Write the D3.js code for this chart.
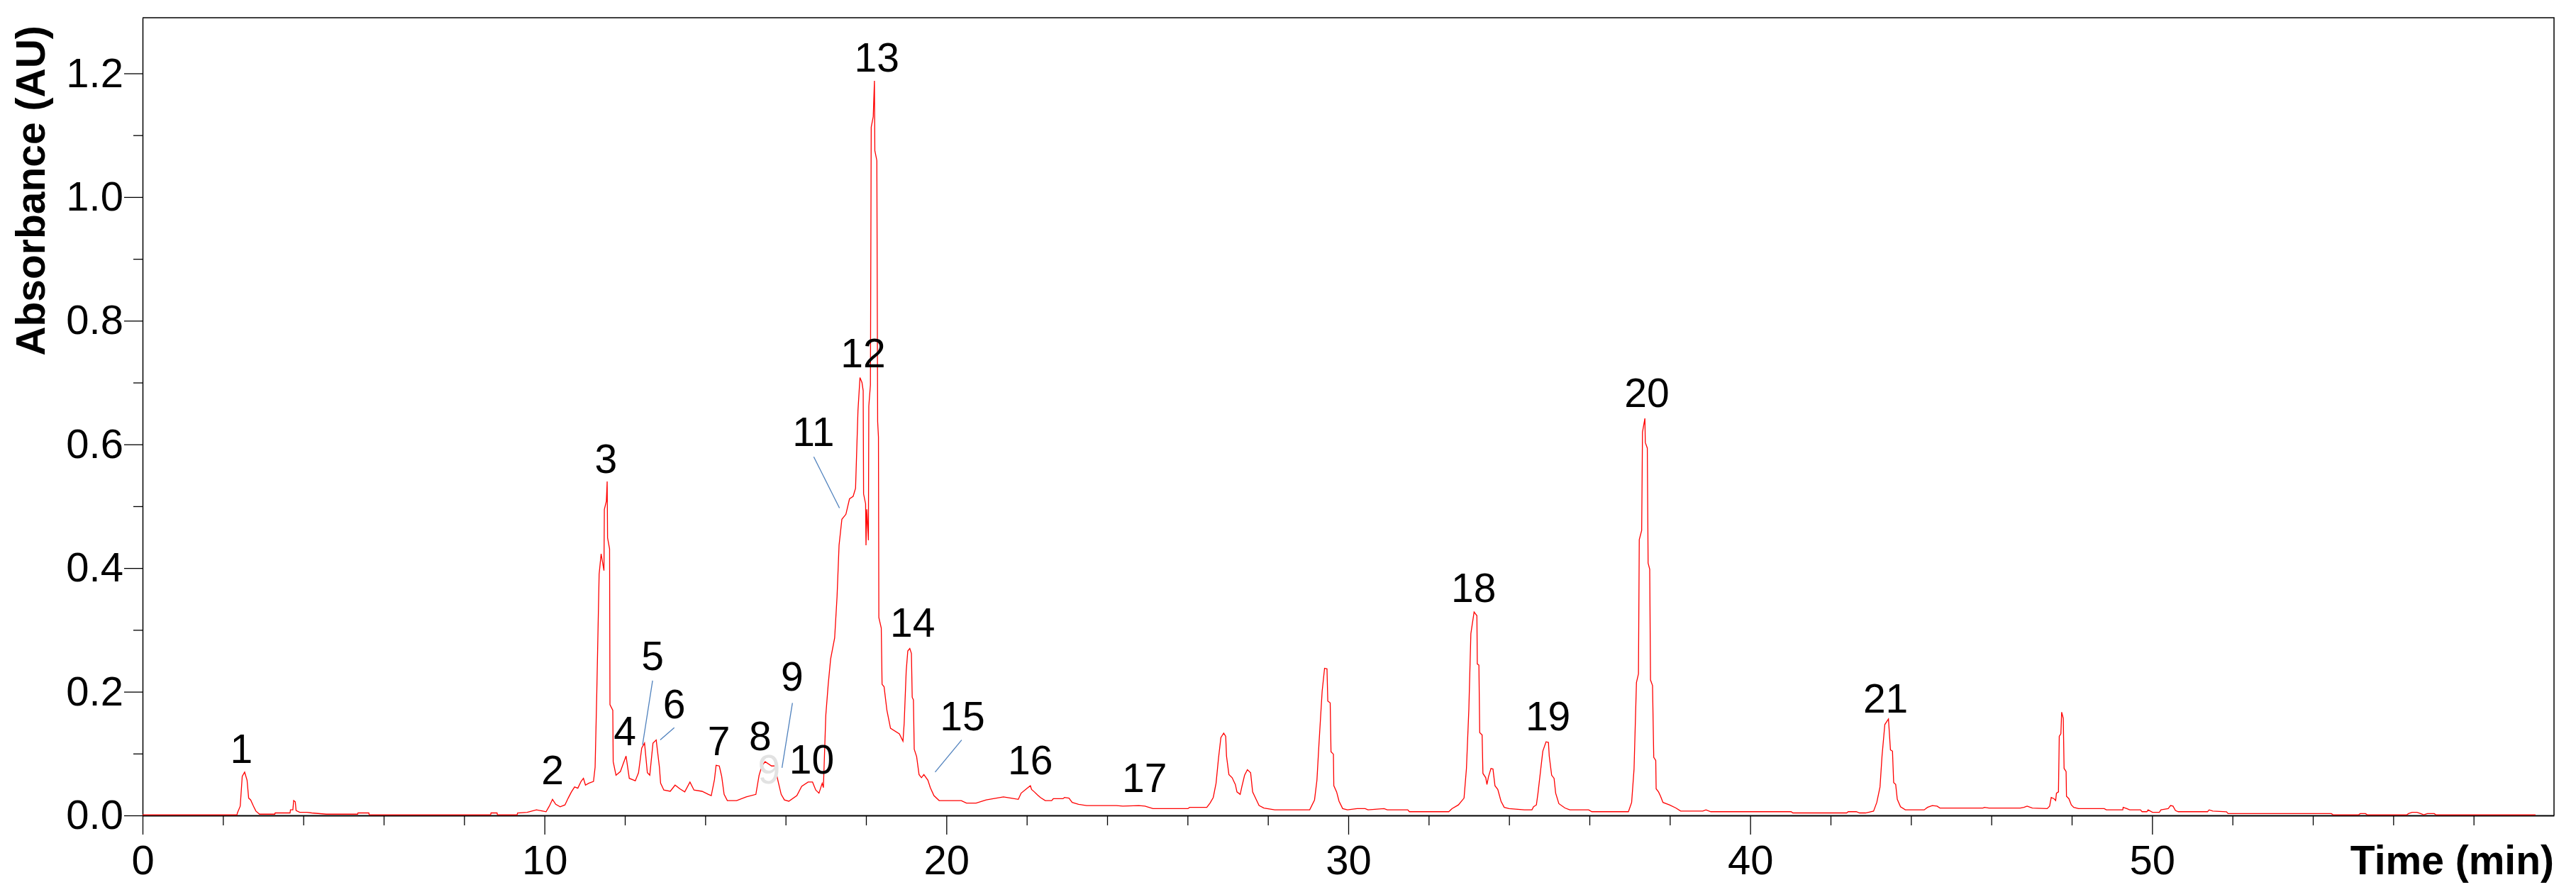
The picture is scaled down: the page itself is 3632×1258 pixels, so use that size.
<!DOCTYPE html>
<html>
<head>
<meta charset="utf-8">
<script src="https://cdn.jsdelivr.net/npm/d3@7"></script>
<style>
  body { margin: 0; background: #fff; }
  svg { display: block; font-family: 'Liberation Sans', Arial, sans-serif; }
</style>
</head>
<body>
<div id="chart"></div>
<script>
// retention time (min) and absorbance (AU)
const times = [
  0.00, 2.35, 2.36, 2.43, 2.48, 2.54, 2.60, 2.64, 2.69, 2.76, 2.82, 2.91, 3.29, 3.30, 3.67, 3.68,
  3.74, 3.76, 3.80, 3.82, 3.91, 4.09, 4.21, 4.57, 5.35, 5.36, 5.63, 5.64, 8.66, 8.67, 8.82, 8.83,
  9.32, 9.33, 9.57, 9.80, 9.96, 10.04, 10.12, 10.20, 10.28, 10.39, 10.51, 10.59, 10.67, 10.75,
  10.83, 10.91, 10.97, 11.02, 11.10, 11.22, 11.26, 11.30, 11.36, 11.41, 11.48, 11.49, 11.54,
  11.56, 11.57, 11.62, 11.63, 11.70, 11.71, 11.78, 11.89, 11.95, 12.03, 12.11, 12.26, 12.34,
  12.42, 12.49, 12.56, 12.62, 12.70, 12.78, 12.86, 12.89, 12.97, 13.13, 13.25, 13.37, 13.49,
  13.62, 13.72, 13.92, 14.08, 14.15, 14.23, 14.27, 14.35, 14.41, 14.47, 14.55, 14.78, 15.02,
  15.26, 15.34, 15.41, 15.49, 15.65, 15.73, 15.81, 15.89, 15.97, 16.08, 16.28, 16.40, 16.56,
  16.67, 16.75, 16.83, 16.91, 16.94, 17.00, 17.06, 17.12, 17.22, 17.28, 17.33, 17.40, 17.50,
  17.59, 17.68, 17.74, 17.80, 17.85, 17.90, 17.93, 17.94, 17.99, 18.00, 18.02, 18.06, 18.07,
  18.11, 18.13, 18.18, 18.21, 18.22, 18.27, 18.29, 18.31, 18.32, 18.38, 18.40, 18.45, 18.52,
  18.61, 18.83, 18.92, 18.95, 19.00, 19.04, 19.09, 19.13, 19.15, 19.18, 19.20, 19.26, 19.32,
  19.38, 19.44, 19.54, 19.60, 19.69, 19.82, 20.37, 20.50, 20.74, 20.99, 21.42, 21.61, 21.79,
  21.86, 22.03, 22.09, 22.12, 22.19, 22.27, 22.34, 22.46, 22.62, 22.66, 22.90, 22.94, 23.05,
  23.13, 23.29, 23.49, 24.23, 24.39, 24.79, 24.94, 25.14, 26.01, 26.05, 26.48, 26.56, 26.64,
  26.71, 26.77, 26.83, 26.90, 26.95, 26.97, 27.03, 27.11, 27.19, 27.23, 27.31, 27.35, 27.42,
  27.49, 27.57, 27.62, 27.70, 27.78, 27.90, 28.17, 29.04, 29.16, 29.22, 29.27, 29.35, 29.41,
  29.47, 29.49, 29.55, 29.57, 29.63, 29.64, 29.71, 29.77, 29.86, 29.98, 30.22, 30.42, 30.49,
  30.89, 30.97, 31.48, 31.52, 32.50, 32.58, 32.74, 32.88, 32.94, 33.00, 33.05, 33.13, 33.20,
  33.21, 33.25, 33.27, 33.33, 33.35, 33.42, 33.45, 33.49, 33.55, 33.60, 33.65, 33.72, 33.80,
  33.88, 34.00, 34.38, 34.57, 34.61, 34.68, 34.72, 34.78, 34.84, 34.92, 34.98, 35.00, 35.06,
  35.12, 35.16, 35.24, 35.39, 35.51, 35.98, 36.06, 36.97, 37.05, 37.11, 37.17, 37.22, 37.24,
  37.30, 37.32, 37.38, 37.39, 37.44, 37.46, 37.50, 37.52, 37.57, 37.60, 37.65, 37.66, 37.72,
  37.77, 37.83, 37.99, 38.15, 38.27, 38.82, 38.90, 39.02, 41.02, 41.06, 42.40, 42.44, 42.64,
  42.72, 42.87, 43.07, 43.15, 43.23, 43.28, 43.35, 43.44, 43.49, 43.54, 43.57, 43.62, 43.66,
  43.74, 43.86, 44.33, 44.41, 44.53, 44.65, 44.72, 45.79, 45.83, 45.94, 46.72, 46.81, 46.89,
  47.02, 47.39, 47.45, 47.49, 47.56, 47.60, 47.62, 47.67, 47.69, 47.73, 47.75, 47.79, 47.81,
  47.86, 47.87, 47.93, 47.99, 48.05, 48.17, 48.81, 48.86, 49.27, 49.28, 49.37, 49.44, 49.71,
  49.75, 49.87, 49.90, 50.01, 50.18, 50.22, 50.40, 50.46, 50.52, 50.58, 50.65, 51.38, 51.42,
  51.51, 51.85, 51.89, 54.46, 54.50, 55.14, 55.18, 55.31, 55.35, 56.34, 56.38, 56.47, 56.59,
  56.68, 56.76, 56.85, 57.02, 57.06, 59.54
];

const absorbance = [
  0.001, 0.001, 0.004, 0.015, 0.063, 0.070, 0.057, 0.028, 0.025, 0.015, 0.007, 0.002, 0.002, 0.004, 0.004, 0.009,
  0.009, 0.024, 0.022, 0.008, 0.005, 0.005, 0.004, 0.002, 0.002, 0.004, 0.004, 0.001, 0.001, 0.004, 0.004, 0.001,
  0.001, 0.004, 0.005, 0.009, 0.007, 0.006, 0.015, 0.026, 0.018, 0.014, 0.017, 0.028, 0.038, 0.046,
  0.044, 0.055, 0.060, 0.049, 0.052, 0.055, 0.078, 0.193, 0.390, 0.423, 0.396, 0.495, 0.508,
  0.540, 0.449, 0.431, 0.179, 0.170, 0.087, 0.065, 0.071, 0.082, 0.096, 0.060, 0.056, 0.069,
  0.109, 0.117, 0.069, 0.065, 0.117, 0.122, 0.078, 0.052, 0.041, 0.039, 0.049, 0.043, 0.038,
  0.054, 0.041, 0.039, 0.034, 0.032, 0.058, 0.081, 0.080, 0.063, 0.034, 0.024, 0.024, 0.030,
  0.034, 0.065, 0.080, 0.087, 0.080, 0.080, 0.056, 0.034, 0.025, 0.023, 0.032, 0.047, 0.054,
  0.054, 0.041, 0.036, 0.052, 0.045, 0.162, 0.212, 0.253, 0.287, 0.354, 0.437, 0.479, 0.487,
  0.512, 0.516, 0.529, 0.654, 0.708, 0.700, 0.687, 0.520, 0.504, 0.437, 0.495, 0.445, 0.662,
  0.696, 1.113, 1.130, 1.188, 1.075, 1.059, 0.637, 0.612, 0.320, 0.303, 0.212, 0.208, 0.170,
  0.141, 0.132, 0.120, 0.149, 0.233, 0.266, 0.270, 0.262, 0.191, 0.187, 0.107, 0.095, 0.066,
  0.061, 0.066, 0.057, 0.045, 0.032, 0.024, 0.024, 0.020, 0.020, 0.025, 0.030, 0.028, 0.026,
  0.036, 0.045, 0.048, 0.042, 0.038, 0.033, 0.029, 0.024, 0.024, 0.027, 0.027, 0.029, 0.028,
  0.021, 0.018, 0.016, 0.016, 0.015, 0.016, 0.015, 0.011, 0.011, 0.013, 0.013, 0.020, 0.029,
  0.052, 0.092, 0.126, 0.133, 0.128, 0.096, 0.066, 0.061, 0.050, 0.038, 0.034, 0.046, 0.065,
  0.074, 0.069, 0.038, 0.027, 0.016, 0.012, 0.009, 0.009, 0.025, 0.057, 0.115, 0.201, 0.238,
  0.237, 0.185, 0.182, 0.103, 0.099, 0.048, 0.038, 0.023, 0.011, 0.009, 0.011, 0.011, 0.009,
  0.011, 0.009, 0.009, 0.006, 0.006, 0.011, 0.017, 0.028, 0.076, 0.172, 0.294, 0.329, 0.323,
  0.245, 0.243, 0.134, 0.130, 0.068, 0.061, 0.050, 0.063, 0.076, 0.075, 0.048, 0.042, 0.023,
  0.013, 0.011, 0.009, 0.009, 0.014, 0.017, 0.036, 0.070, 0.104, 0.119, 0.118, 0.096, 0.065,
  0.060, 0.036, 0.019, 0.012, 0.009, 0.009, 0.006, 0.006, 0.021, 0.075, 0.215, 0.229, 0.446,
  0.461, 0.620, 0.642, 0.603, 0.594, 0.408, 0.398, 0.219, 0.210, 0.094, 0.089, 0.043, 0.038,
  0.031, 0.021, 0.017, 0.012, 0.007, 0.007, 0.009, 0.006, 0.006, 0.004, 0.004, 0.006, 0.006,
  0.004, 0.004, 0.007, 0.021, 0.046, 0.096, 0.147, 0.156, 0.106, 0.104, 0.053, 0.050, 0.026,
  0.014, 0.009, 0.009, 0.013, 0.016, 0.015, 0.012, 0.012, 0.013, 0.012, 0.012, 0.013, 0.015,
  0.012, 0.011, 0.015, 0.029, 0.027, 0.024, 0.036, 0.038, 0.128, 0.132, 0.167, 0.157, 0.076,
  0.071, 0.031, 0.027, 0.017, 0.013, 0.011, 0.011, 0.009, 0.009, 0.013, 0.011, 0.009, 0.009,
  0.006, 0.006, 0.009, 0.005, 0.005, 0.009, 0.011, 0.016, 0.015, 0.008, 0.006, 0.006, 0.009,
  0.007, 0.006, 0.003, 0.003, 0.001, 0.001, 0.003, 0.003, 0.001, 0.001, 0.003, 0.005, 0.005,
  0.003, 0.001, 0.003, 0.003, 0.001, 0.001
];

// peak numbers and where their text sits (time, absorbance of the baseline)
const peakNames = ['1', '2', '3', '4', '5', '6', '7', '8', '9', '10', '11', '12', '13', '14',
  '15', '16', '17', '18', '19', '20', '21'];
const peakLabelT = [2.46, 10.20, 11.53, 12.00, 12.69, 13.23, 14.34, 15.37, 16.16, 16.65, 16.69,
  17.93, 18.27, 19.16, 20.40, 22.09, 24.93, 33.12, 34.97, 37.43, 43.37];
const peakLabelA = [0.085, 0.050, 0.554, 0.114, 0.235, 0.157, 0.0975, 0.1055, 0.202, 0.068, 0.597,
  0.725, 1.203, 0.2885, 0.138, 0.067, 0.038, 0.345, 0.138, 0.66, 0.166];

// leader lines: [t1, a1, t2, a2]
const leaders = [
  [12.69, 0.218, 12.44, 0.114],
  [13.23, 0.142, 12.88, 0.122],
  [16.17, 0.182, 15.91, 0.077],
  [16.70, 0.580, 17.34, 0.497],
  [20.38, 0.122, 19.72, 0.070]
];

const yMajor = [0, 0.2, 0.4, 0.6, 0.8, 1.0, 1.2];
const yMinor = [0.1, 0.3, 0.5, 0.7, 0.9, 1.1];
const xMajor = [0, 10, 20, 30, 40, 50];
const xMinor = d3.range(2, 60, 2).filter(v => v % 10 !== 0);

const svgWidth = 3632;
const svgHeight = 1258;

const svg = d3.select('#chart')
                .append('svg')
                .attr('width', svgWidth)
                .attr('height', svgHeight);

svg.append('rect').attr('width', svgWidth).attr('height', svgHeight).attr('fill', '#fff');

const x = d3.scaleLinear().domain([0, 60]).range([201, 3601]);
const y = d3.scaleLinear().domain([0, 1.29]).range([1150, 25]);

// frame (top and right)
svg.append('path')
    .attr('d', `M${x(0)},${y(1.29)}H${x(60)}V${y(0)}`)
    .attr('fill', 'none')
    .attr('stroke', '#000')
    .attr('stroke-width', 1.5);

// y axis
const yAxis = svg.append('g')
    .attr('transform', `translate(${x(0)},0)`)
    .call(d3.axisLeft(y).tickValues(yMajor).tickFormat(d3.format('.1f'))
      .tickSize(26).tickSizeOuter(0).tickPadding(1));
svg.append('g')
    .attr('transform', `translate(${x(0)},0)`)
    .call(d3.axisLeft(y).tickValues(yMinor).tickFormat('').tickSize(13).tickSizeOuter(0))
    .call(g => g.select('.domain').remove());

// x axis
const xAxis = svg.append('g')
    .attr('transform', `translate(0,${y(0)})`)
    .call(d3.axisBottom(x).tickValues(xMajor).tickFormat(d3.format('d'))
      .tickSize(27).tickSizeOuter(0).tickPadding(15));
svg.append('g')
    .attr('transform', `translate(0,${y(0)})`)
    .call(d3.axisBottom(x).tickValues(xMinor).tickFormat('').tickSize(14).tickSizeOuter(0))
    .call(g => g.select('.domain').remove());

svg.selectAll('.tick line').attr('stroke', '#000').attr('stroke-width', 1.3);
yAxis.select('.domain').attr('stroke-width', 1.5);
xAxis.select('.domain').attr('stroke-width', 2.2);
svg.selectAll('.tick text')
    .attr('fill', '#000')
    .style('font-size', '58px')
    .style('font-family', "'Liberation Sans', Arial, sans-serif");

// axis titles
svg.append('text')
    .attr('transform', `translate(63,269) rotate(-90)`)
    .attr('text-anchor', 'middle')
    .style('font-size', '57px')
    .style('font-weight', 'bold')
    .text('Absorbance (AU)');

svg.append('text')
    .attr('x', 3601)
    .attr('y', 1233)
    .attr('text-anchor', 'end')
    .style('font-size', '57px')
    .style('font-weight', 'bold')
    .text('Time (min)');

// the trace
const trace = times.map((t, i) => [t, absorbance[i]]);
svg.append('path')
    .datum(trace)
    .attr('fill', 'none')
    .attr('stroke', '#ff0000')
    .attr('stroke-width', 1.3)
    .attr('d', d3.line().x(d => x(d[0])).y(d => y(d[1])));

// leader lines
svg.selectAll('line.leader')
    .data(leaders)
    .join('line')
    .classed('leader', true)
    .attr('x1', d => x(d[0]))
    .attr('y1', d => y(d[1]))
    .attr('x2', d => x(d[2]))
    .attr('y2', d => y(d[3]))
    .attr('stroke', '#4f81bd')
    .attr('stroke-width', 1.3);

// faint ghost "9" left on the figure
svg.append('text')
    .attr('x', x(15.59))
    .attr('y', y(0.052))
    .attr('text-anchor', 'middle')
    .attr('fill', '#e2e2e2')
    .style('font-size', '57px')
    .text('9');

// peak numbers
svg.selectAll('text.peak')
    .data(peakNames)
    .join('text')
    .classed('peak', true)
    .attr('x', (d, i) => x(peakLabelT[i]))
    .attr('y', (d, i) => y(peakLabelA[i]))
    .attr('text-anchor', 'middle')
    .attr('fill', '#000')
    .style('font-size', '57px')
    .text(d => d);
</script>
</body>
</html>
